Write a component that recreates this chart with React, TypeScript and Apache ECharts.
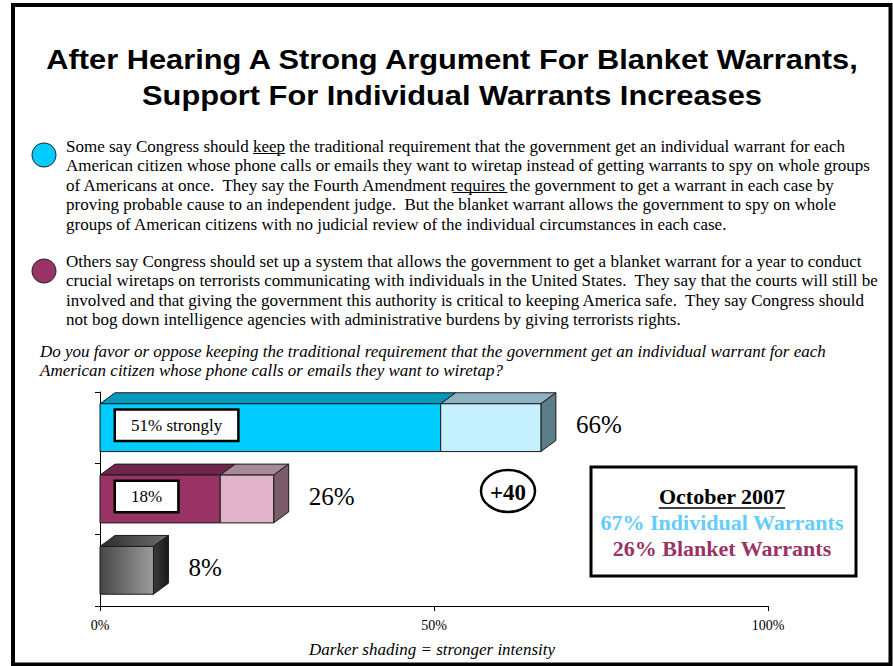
import React, { useEffect, useRef } from 'react';
import * as echarts from 'echarts';

const categories = ['Individual Warrants', 'Blanket Warrants', "Don't know"];
const strongValues = [51, 18, 0];
const totalValues = [66, 26, 8];
const strongLabels = ['51% strongly', '18%', ''];
const totalLabels = ['66%', '26%', '8%'];
const xTickValues = [0, 50, 100];

const titleLines = [
  'After Hearing A Strong Argument For Blanket Warrants,',
  'Support For Individual Warrants Increases',
];
const para1 = [
  'Some say Congress should keep the traditional requirement that the government get an individual warrant for each',
  'American citizen whose phone calls or emails they want to wiretap instead of getting warrants to spy on whole groups',
  'of Americans at once.  They say the Fourth Amendment requires the government to get a warrant in each case by',
  'proving probable cause to an independent judge.  But the blanket warrant allows the government to spy on whole',
  'groups of American citizens with no judicial review of the individual circumstances in each case.',
];
const para2 = [
  'Others say Congress should set up a system that allows the government to get a blanket warrant for a year to conduct',
  'crucial wiretaps on terrorists communicating with individuals in the United States.  They say that the courts will still be',
  'involved and that giving the government this authority is critical to keeping America safe.  They say Congress should',
  'not bog down intelligence agencies with administrative burdens by giving terrorists rights.',
];
const questionLines = [
  'Do you favor or oppose keeping the traditional requirement that the government get an individual warrant for each',
  'American citizen whose phone calls or emails they want to wiretap?',
];
const underlined = [
  { line: 0, word: 'keep' },
  { line: 2, word: 'requires' },
];
const legendLines = ['October 2007', '67% Individual Warrants', '26% Blanket Warrants'];
const marginLabel = '+' + (totalValues[0] - totalValues[1]);
const footnote = 'Darker shading = stronger intensity';

const SERIF = "'Liberation Serif', 'Times New Roman', serif";
const SANS = "'Liberation Sans', Arial, sans-serif";
const BODY_FONT = `17px ${SERIF}`;

const palettes = [
  { sFront: '#00CCFF', sTop: '#0399BB', wFront: '#C4F0FF', wTop: '#8DB3C0', side: '#5B7D87' },
  { sFront: '#993366', sTop: '#6E2549', wFront: '#E0B3C9', wTop: '#A8899A', side: '#7B5A6A' },
  {
    sFront: '#666',
    sTop: '#444',
    wFront: { type: 'linear', x: 0, y: 0, x2: 1, y2: 0, colorStops: [{ offset: 0, color: '#474747' }, { offset: 1, color: '#9C9C9C' }] },
    wTop: { type: 'linear', x: 0, y: 0, x2: 1, y2: 0, colorStops: [{ offset: 0, color: '#2C2C2C' }, { offset: 1, color: '#6E6E6E' }] },
    side: { type: 'linear', x: 0, y: 0, x2: 1, y2: 0, colorStops: [{ offset: 0, color: '#3A3A3A' }, { offset: 1, color: '#1A1A1A' }] },
  },
];

function measure(text: string, font: string): number {
  const c = document.createElement('canvas').getContext('2d');
  if (!c) return text.length * 7;
  c.font = font;
  return c.measureText(text).width;
}

export default function App() {
  const ref = useRef<HTMLDivElement>(null);
  useEffect(() => {
    if (!ref.current) return;
    const chart = echarts.init(ref.current, null, { renderer: 'svg' });
    const STROKE = '#1a1a1a';

    const graphics: any[] = [];
    graphics.push({
      type: 'rect', shape: { x: 13, y: 5, width: 877.5, height: 659.5 },
      style: { fill: 'none', stroke: '#000', lineWidth: 4 }, z: 100,
    });
    const TITLE_FONT = `bold 28px ${SANS}`;
    const titleScale = 815 / measure(titleLines[0], TITLE_FONT);
    titleLines.forEach((t, i) => {
      graphics.push({
        type: 'text', x: 452, y: 59 + i * 36, scaleX: titleScale,
        style: { text: t, font: TITLE_FONT, fill: '#000', textAlign: 'center', textVerticalAlign: 'middle' },
      });
    });
    graphics.push({ type: 'circle', shape: { cx: 44, cy: 155, r: 12 }, style: { fill: '#00CCFF', stroke: '#222', lineWidth: 1 } });
    graphics.push({ type: 'circle', shape: { cx: 44, cy: 271, r: 12 }, style: { fill: '#993366', stroke: '#222', lineWidth: 1 } });
    const lh = 19.5;
    para1.forEach((t, i) => {
      graphics.push({
        type: 'text', x: 66, y: 146 + i * lh,
        style: { text: t, font: BODY_FONT, fill: '#000', textAlign: 'left', textVerticalAlign: 'middle' },
      });
    });
    underlined.forEach((u) => {
      const line = para1[u.line];
      const idx = line.indexOf(u.word);
      const x1 = 66 + measure(line.slice(0, idx), BODY_FONT);
      const w = measure(u.word, BODY_FONT);
      const y = 146 + u.line * lh + 7.5;
      graphics.push({ type: 'line', shape: { x1, y1: y, x2: x1 + w, y2: y }, style: { stroke: '#000', lineWidth: 1 } });
    });
    para2.forEach((t, i) => {
      graphics.push({
        type: 'text', x: 66, y: 261 + i * lh,
        style: { text: t, font: BODY_FONT, fill: '#000', textAlign: 'left', textVerticalAlign: 'middle' },
      });
    });
    questionLines.forEach((t, i) => {
      graphics.push({
        type: 'text', x: 40, y: 351 + i * lh,
        style: { text: t, font: `italic ${BODY_FONT}`, fill: '#000', textAlign: 'left', textVerticalAlign: 'middle' },
      });
    });
    graphics.push({ type: 'ellipse', shape: { cx: 508, cy: 491, rx: 27, ry: 21 }, style: { fill: '#fff', stroke: '#000', lineWidth: 2.5 } });
    graphics.push({
      type: 'text', x: 508, y: 492,
      style: { text: marginLabel, font: `bold 23px ${SERIF}`, fill: '#000', textAlign: 'center', textVerticalAlign: 'middle' },
    });
    graphics.push({ type: 'rect', shape: { x: 591, y: 467, width: 265, height: 109 }, style: { fill: '#fff', stroke: '#000', lineWidth: 3 } });
    const legendColors = ['#000', '#66CCFF', '#993366'];
    const LEG_FONT = `bold 22px ${SERIF}`;
    legendLines.forEach((t, i) => {
      graphics.push({
        type: 'text', x: 722, y: 496 + i * 26,
        style: { text: t, font: LEG_FONT, fill: legendColors[i], textAlign: 'center', textVerticalAlign: 'middle' },
      });
    });
    const lw = measure(legendLines[0], LEG_FONT);
    graphics.push({ type: 'line', shape: { x1: 722 - lw / 2, y1: 508, x2: 722 + lw / 2, y2: 508 }, style: { stroke: '#000', lineWidth: 1.5 } });
    graphics.push({
      type: 'text', x: 432, y: 649,
      style: { text: footnote, font: `italic 17px ${SERIF}`, fill: '#000', textAlign: 'center', textVerticalAlign: 'middle' },
    });

    const data = categories.map((c, i) => [i, strongValues[i], totalValues[i]]);

    chart.setOption({
      animation: false,
      backgroundColor: '#fff',
      grid: { left: 100, right: 125, top: 392, bottom: 60 },
      xAxis: {
        type: 'value', min: 0, max: 100, interval: 50,
        axisLine: { show: true, lineStyle: { color: '#000', width: 1 } },
        axisTick: { show: true, length: 5, lineStyle: { color: '#000' } },
        splitLine: { show: false },
        axisLabel: {
          formatter: (v: number) => (xTickValues.includes(v) ? v + '%' : ''),
          fontFamily: SERIF, fontSize: 14, color: '#000', margin: 12,
        },
      },
      yAxis: {
        type: 'category', data: categories, inverse: true,
        axisLine: { show: true, lineStyle: { color: '#000', width: 1 } },
        axisTick: { show: true, length: 5, lineStyle: { color: '#000' } },
        axisLabel: { show: false },
      },
      series: [
        {
          type: 'custom',
          encode: { x: [1, 2], y: 0 },
          data,
          renderItem: (params: any, api: any) => {
            const cat = api.value(0);
            const strong = api.value(1);
            const total = api.value(2);
            const p0 = api.coord([0, cat]);
            const pS = api.coord([strong, cat]);
            const pT = api.coord([total, cat]);
            const band = api.size([0, 1])[1];
            const h = band * 0.67;
            const yT = p0[1] - h / 2;
            const yB = p0[1] + h / 2;
            const dx = 15, dy = 11;
            const x0 = p0[0], xS = pS[0], xT = pT[0];
            const pal: any = palettes[cat];
            const children: any[] = [];
            const ls = { stroke: STROKE, lineWidth: 1 };
            if (strong > 0) {
              children.push({ type: 'polygon', shape: { points: [[x0, yT], [x0 + dx, yT - dy], [xS + dx, yT - dy], [xS, yT]] }, style: { fill: pal.sTop, ...ls } });
            }
            children.push({ type: 'polygon', shape: { points: [[xS, yT], [xS + dx, yT - dy], [xT + dx, yT - dy], [xT, yT]] }, style: { fill: pal.wTop, ...ls } });
            children.push({ type: 'polygon', shape: { points: [[xT, yT], [xT + dx, yT - dy], [xT + dx, yB - dy], [xT, yB]] }, style: { fill: pal.side, ...ls } });
            if (strong > 0) {
              children.push({ type: 'rect', shape: { x: x0, y: yT, width: xS - x0, height: h }, style: { fill: pal.sFront, ...ls } });
            }
            children.push({ type: 'rect', shape: { x: xS, y: yT, width: xT - xS, height: h }, style: { fill: pal.wFront, ...ls } });
            if (strongLabels[cat]) {
              children.push({
                type: 'text', x: x0 + 16, y: p0[1] - 2.5,
                style: {
                  text: strongLabels[cat], font: `17px ${SERIF}`, fill: '#000',
                  textAlign: 'left', textVerticalAlign: 'middle',
                  backgroundColor: '#fff', borderColor: '#000', borderWidth: 2.5, padding: [6, 15],
                },
              });
            }
            children.push({
              type: 'text', x: xT + dx + 20, y: p0[1] - 3,
              style: { text: totalLabels[cat], font: `25px ${SERIF}`, fill: '#000', textAlign: 'left', textVerticalAlign: 'middle' },
            });
            return { type: 'group', children };
          },
        },
      ],
      graphic: graphics,
    });
    return () => chart.dispose();
  }, []);
  return <div ref={ref} style={{ position: 'fixed', left: 0, top: 0, width: 893, height: 666 }} />;
}
